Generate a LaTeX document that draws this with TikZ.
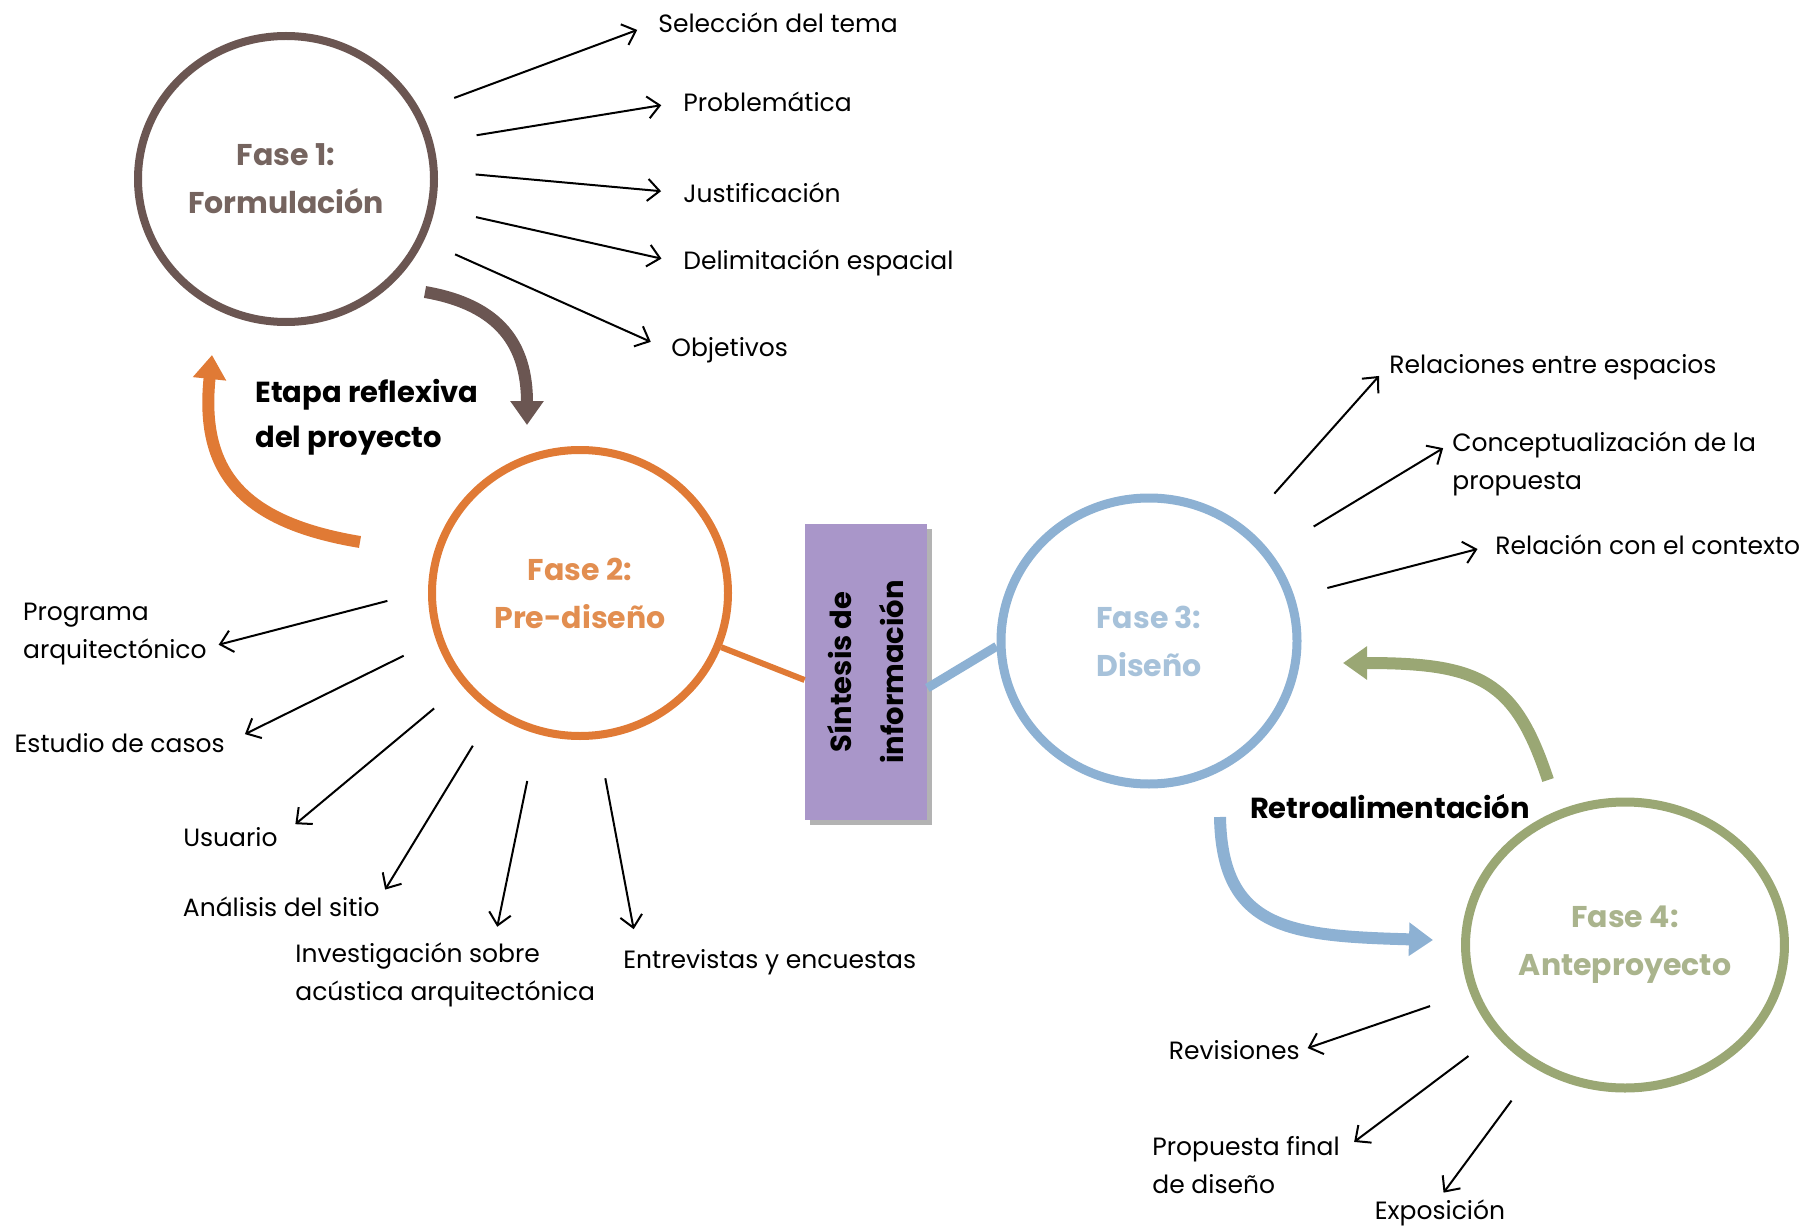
\documentclass[tikz,border=0pt]{standalone}
\usepackage{fontspec}
\setmainfont{Poppins}
\usetikzlibrary{shapes.geometric, arrows.meta, shadows}
\definecolor{fbrown}{HTML}{6B5652}
\definecolor{fbrowntxt}{HTML}{75645F}
\definecolor{forange}{HTML}{E07A35}
\definecolor{forangetxt}{HTML}{E28E50}
\definecolor{fblue}{HTML}{8DB1D3}
\definecolor{fbluetxt}{HTML}{A7C2DA}
\definecolor{fgreen}{HTML}{9AA774}
\definecolor{fgreentxt}{HTML}{AAB48D}
\definecolor{fpurple}{HTML}{A996C9}
\tikzset{
    phase/.style={
        ellipse, line width=4pt, fill=white,
        minimum width=148pt, minimum height=143pt,
        align=center, font=\fontsize{15}{24}\selectfont\bfseries
    },
    topic/.style={font=\fontsize{12.5}{19}\selectfont, align=left, inner sep=1pt},
    stage/.style={font=\fontsize{14.5}{22.5}\selectfont\bfseries, align=left, inner sep=1pt},
    item/.style={draw=black, line width=1pt, -{Straight Barb[length=6pt,width=11pt]}},
    flow/.style={line width=6pt, -{Triangle[length=12pt,width=16pt]}},
    link/.style={line width=3pt},
    sintbox/.style={
        rectangle, fill=fpurple, minimum width=148pt, minimum height=61pt,
        align=center, font=\fontsize{14.5}{26}\selectfont\bfseries,
        drop shadow={shadow xshift=2.5pt, shadow yshift=-2.5pt, opacity=0.6}
    }
}
\begin{document}
\begin{tikzpicture}[x=0.5pt, y=-0.5pt]
\useasboundingbox (0,0) rectangle (1810,1230);

% Phases
\node[phase, draw=fbrown, text=fbrowntxt] (f1) at (286,179) {Fase 1:\\Formulación};
\node[phase, draw=forange, text=forangetxt] (f2) at (580,593) {Fase 2:\\Pre-diseño};
\node[phase, draw=fblue, text=fbluetxt, line width=4.5pt] (f3) at (1149,641) {Fase 3:\\Diseño};
\node[phase, draw=fgreen, text=fgreentxt, line width=4.5pt] (f4) at (1625,945) {Fase 4:\\Anteproyecto};

% Synthesis box
\node[sintbox, rotate=90] (sint) at (866,672) {Síntesis de\\información};
\draw[link, forange] (f2.-21) -- ([yshift=-4pt]sint.north);
\draw[link, fblue, line width=4.5pt] ([yshift=-8pt]sint.south) -- (f3.182);

% Phase 1 topics
\node[topic, anchor=west] (sel) at (656,23) {Selección del tema};
\node[topic, anchor=west] (prob) at (681,102) {Problemática};
\node[topic, anchor=west] (just) at (681,193) {Justificación};
\node[topic, anchor=west] (delim) at (681,263) {Delimitación espacial};
\node[topic, anchor=west] (obj) at (669,350) {Objetivos};

\draw[item, shorten <=18pt, shorten >=10pt] (f1.27) -- (sel.west);
\draw[item, shorten <=22pt, shorten >=10pt] (f1.14) -- (prob.west);
\draw[item, shorten <=19pt, shorten >=10pt] (f1.3) -- (just.west);
\draw[item, shorten <=21pt, shorten >=10pt] (f1.-11) -- (delim.west);
\draw[item, shorten <=17pt, shorten >=10pt] (f1.-24) -- (obj.west);

% Phase 2 topics
\node[topic, anchor=east] (prog) at (209,634) {Programa\\arquitectónico};
\node[topic, anchor=east] (estu) at (227,743) {Estudio de casos};
\node[topic, anchor=east] (usu) at (280,837) {Usuario};
\node[topic, anchor=east] (anal) at (382,907) {Análisis del sitio};
\node[topic, anchor=west] (inv) at (293,975) {Investigación sobre\\acústica arquitectónica};
\node[topic, anchor=west] (entr) at (621,962) {Entrevistas y encuestas};

\draw[item, shorten <=21pt, shorten >=5pt] (f2.179) -- (prog.-8);
\draw[item, shorten <=18pt, shorten >=10pt] (f2.198) -- (estu.east);
\draw[item, shorten <=18pt, shorten >=10pt] (f2.218) -- (usu.east);
\draw[item, shorten <=19pt, shorten >=3pt] (f2.234) -- (anal.north east);
\draw[item, shorten <=24pt, shorten >=7pt] (f2.253) -- (inv.35);
\draw[item, shorten <=20pt, shorten >=9pt] (f2.277) -- ([xshift=8pt]entr.north west);

% Phase 3 topics
\node[topic, anchor=west] (rel) at (1387,367) {Relaciones entre espacios};
\node[topic, anchor=west] (conc) at (1450,464) {Conceptualización de la\\propuesta};
\node[topic, anchor=west] (relc) at (1493,545) {Relación con el contexto};

\draw[item, shorten <=22pt, shorten >=6pt] (f3.50) -- (rel.west);
\draw[item, shorten <=25pt, shorten >=4pt] (f3.36) -- ([yshift=10pt]conc.west);
\draw[item, shorten <=17pt, shorten >=8pt] (f3.17) -- (relc.west);

% Phase 4 topics
\node[topic, anchor=east] (rev) at (1302,1050) {Revisiones};
\node[topic, anchor=west] (prop) at (1150,1165) {Propuesta final\\de diseño};
\node[topic] (expo) at (1440,1213) {Exposición};

\draw[item, shorten <=21pt, shorten >=3pt] (f4.197) -- (rev.east);
\draw[item, shorten <=17pt] (f4.215) -- ([xshift=6pt,yshift=-4pt]prop.north east);
\draw[item, shorten <=20pt, shorten >=3pt] (f4.234) -- (expo.north);

% Cycle arrows
\coordinate (b1) at (425,292);
\coordinate (b2) at (527,425);
\coordinate (o1) at (360,542);
\coordinate (o2) at (212,355);
\coordinate (u1) at (1220,817);
\coordinate (u2) at (1433,940);
\coordinate (g1) at (1548,780);
\coordinate (g2) at (1343,663);

\draw[flow, fbrown] (b1) .. controls (500,305) and (527,345) .. (b2);
\draw[flow, forange] (o1) .. controls (240,522) and (200,470) .. (o2);
\draw[flow, fblue] (u1) .. controls (1222,930) and (1290,936) .. (u2);
\draw[flow, fgreen] (g1) .. controls (1515,680) and (1480,663) .. (g2);

\node[stage, anchor=west] (etapa) at (253,417) {Etapa reflexiva\\del proyecto};
\node[stage] (retro) at (1390,807) {Retroalimentación};

\end{tikzpicture}
\end{document}
